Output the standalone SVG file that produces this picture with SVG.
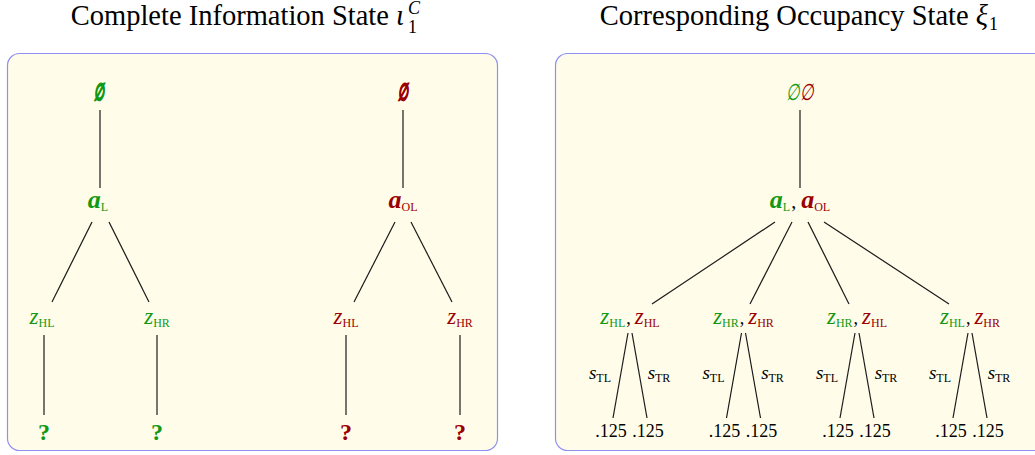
<svg xmlns="http://www.w3.org/2000/svg" width="1035" height="455" viewBox="0 0 1035 455">
<style>
text{font-family:"Liberation Serif","DejaVu Serif",serif;}
.title{font-size:28.5px;fill:#000;}
.panel{fill:#fffdea;stroke:#9090f0;stroke-width:1.2;}
.g{fill:#139813;}
.r{fill:#9b0000;}
.k{fill:#000;}
.big{font-size:26px;font-weight:bold;font-style:italic;}
.es{font-size:23px;font-weight:bold;font-style:italic;stroke-width:1.4;}
.es.g{stroke:#139813;}
.es.r{stroke:#9b0000;}
.es2{font-size:23px;font-style:italic;}
.z{font-size:23px;font-style:italic;}
.sub{font-size:12px;font-style:normal;font-weight:normal;}
.q{font-size:24px;font-weight:bold;}
.num{font-size:18px;fill:#000;}
.s{font-size:19px;font-style:italic;fill:#000;}
.conn line{stroke:#1a1a1a;stroke-width:1.2;}
</style>
<text class="title" x="404" y="25" text-anchor="end">Complete Information State <tspan font-style="italic">ι</tspan></text>
<text class="title" x="408" y="14" font-style="italic" style="font-size:18px">C</text>
<text class="title" x="408" y="33" style="font-size:18px">1</text>
<text class="title" x="988" y="25" text-anchor="end">Corresponding Occupancy State <tspan font-style="italic">ξ</tspan></text>
<text class="title" x="989" y="30" style="font-size:18px">1</text>
<rect class="panel" x="7.5" y="53.5" width="490" height="397" rx="12"/>
<rect class="panel" x="555.5" y="53.5" width="500" height="397" rx="12"/>
<g class="conn" id="connectors">
<line x1="100" y1="110" x2="100" y2="188"/>
<line x1="92" y1="222" x2="52" y2="302"/>
<line x1="109" y1="222" x2="149" y2="302"/>
<line x1="44" y1="335" x2="44" y2="415"/>
<line x1="157" y1="335" x2="157" y2="415"/>
<line x1="403" y1="110" x2="403" y2="188"/>
<line x1="395" y1="222" x2="354" y2="302"/>
<line x1="411" y1="222" x2="452" y2="302"/>
<line x1="346" y1="335" x2="346" y2="415"/>
<line x1="460" y1="335" x2="460" y2="415"/>
<line x1="800" y1="110" x2="800" y2="188"/>
<line x1="775" y1="222" x2="652" y2="304"/>
<line x1="792" y1="222" x2="750" y2="304"/>
<line x1="808" y1="222" x2="849" y2="304"/>
<line x1="824" y1="222" x2="949" y2="304"/>
<line x1="628" y1="333" x2="613" y2="418"/>
<line x1="632" y1="333" x2="647" y2="418"/>
<line x1="741.5" y1="333" x2="726.5" y2="418"/>
<line x1="745.5" y1="333" x2="760.5" y2="418"/>
<line x1="855" y1="333" x2="840" y2="418"/>
<line x1="859" y1="333" x2="874" y2="418"/>
<line x1="968" y1="333" x2="953" y2="418"/>
<line x1="972" y1="333" x2="987" y2="418"/>
</g>
<g id="L-root"><text class="g es" transform="translate(99,100) scale(0.5,1)" text-anchor="middle">∅</text></g>
<g id="L-aL"><text class="g big" x="98" y="208" text-anchor="middle">a<tspan class="sub" dy="3">L</tspan></text></g>
<g id="L-zHL"><text class="g z" x="42" y="324" text-anchor="middle">z<tspan class="sub" dy="3">HL</tspan></text></g>
<g id="L-zHR"><text class="g z" x="157" y="324" text-anchor="middle">z<tspan class="sub" dy="3">HR</tspan></text></g>
<g id="L-q1"><text class="g q" x="44" y="440" text-anchor="middle">?</text></g>
<g id="L-q2"><text class="g q" x="157" y="440" text-anchor="middle">?</text></g>
<g id="R-root"><text class="r es" transform="translate(403,100) scale(0.5,1)" text-anchor="middle">∅</text></g>
<g id="R-aOL"><text class="r big" x="403" y="208" text-anchor="middle">a<tspan class="sub" dy="3">OL</tspan></text></g>
<g id="R-zHL"><text class="r z" x="346" y="324" text-anchor="middle">z<tspan class="sub" dy="3">HL</tspan></text></g>
<g id="R-zHR"><text class="r z" x="460" y="324" text-anchor="middle">z<tspan class="sub" dy="3">HR</tspan></text></g>
<g id="R-q1"><text class="r q" x="346" y="440" text-anchor="middle">?</text></g>
<g id="R-q2"><text class="r q" x="460" y="440" text-anchor="middle">?</text></g>
<g id="O-root"><text class="es2" transform="translate(800,100) scale(0.68,1)" text-anchor="middle"><tspan class="g">∅</tspan><tspan class="r">∅</tspan></text></g>
<g id="O-a"><text class="big" x="800" y="208" text-anchor="middle"><tspan class="g">a</tspan><tspan class="sub g" dy="3">L</tspan><tspan class="k" dy="-3" dx="1" style="font-style:normal;font-weight:normal;font-size:20px">,</tspan><tspan class="r" dx="5">a</tspan><tspan class="sub r" dy="3">OL</tspan></text></g>
<g id="O-c1"><text class="z" x="630" y="324" text-anchor="middle"><tspan class="g">z</tspan><tspan class="sub g" dy="3">HL</tspan><tspan class="k" dy="-3" dx="1" style="font-style:normal;font-size:18px">,</tspan><tspan class="r" dx="4">z</tspan><tspan class="sub r" dy="3">HL</tspan></text></g>
<g id="O-c2"><text class="z" x="743.5" y="324" text-anchor="middle"><tspan class="g">z</tspan><tspan class="sub g" dy="3">HR</tspan><tspan class="k" dy="-3" dx="1" style="font-style:normal;font-size:18px">,</tspan><tspan class="r" dx="4">z</tspan><tspan class="sub r" dy="3">HR</tspan></text></g>
<g id="O-c3"><text class="z" x="857" y="324" text-anchor="middle"><tspan class="g">z</tspan><tspan class="sub g" dy="3">HR</tspan><tspan class="k" dy="-3" dx="1" style="font-style:normal;font-size:18px">,</tspan><tspan class="r" dx="4">z</tspan><tspan class="sub r" dy="3">HL</tspan></text></g>
<g id="O-c4"><text class="z" x="970" y="324" text-anchor="middle"><tspan class="g">z</tspan><tspan class="sub g" dy="3">HL</tspan><tspan class="k" dy="-3" dx="1" style="font-style:normal;font-size:18px">,</tspan><tspan class="r" dx="4">z</tspan><tspan class="sub r" dy="3">HR</tspan></text></g>
<g id="O-labels">
<text class="s" x="600" y="379" text-anchor="middle">s<tspan class="sub" dy="3">TL</tspan></text>
<text class="s" x="659" y="379" text-anchor="middle">s<tspan class="sub" dy="3">TR</tspan></text>
<text class="s" x="713.5" y="379" text-anchor="middle">s<tspan class="sub" dy="3">TL</tspan></text>
<text class="s" x="772.5" y="379" text-anchor="middle">s<tspan class="sub" dy="3">TR</tspan></text>
<text class="s" x="827" y="379" text-anchor="middle">s<tspan class="sub" dy="3">TL</tspan></text>
<text class="s" x="886" y="379" text-anchor="middle">s<tspan class="sub" dy="3">TR</tspan></text>
<text class="s" x="940" y="379" text-anchor="middle">s<tspan class="sub" dy="3">TL</tspan></text>
<text class="s" x="999" y="379" text-anchor="middle">s<tspan class="sub" dy="3">TR</tspan></text>
</g>
<g id="O-leaves">
<text class="num" x="611" y="437" text-anchor="middle">.125</text>
<text class="num" x="648" y="437" text-anchor="middle">.125</text>
<text class="num" x="724.5" y="437" text-anchor="middle">.125</text>
<text class="num" x="761.5" y="437" text-anchor="middle">.125</text>
<text class="num" x="838" y="437" text-anchor="middle">.125</text>
<text class="num" x="875" y="437" text-anchor="middle">.125</text>
<text class="num" x="951" y="437" text-anchor="middle">.125</text>
<text class="num" x="988" y="437" text-anchor="middle">.125</text>
</g>
</svg>
